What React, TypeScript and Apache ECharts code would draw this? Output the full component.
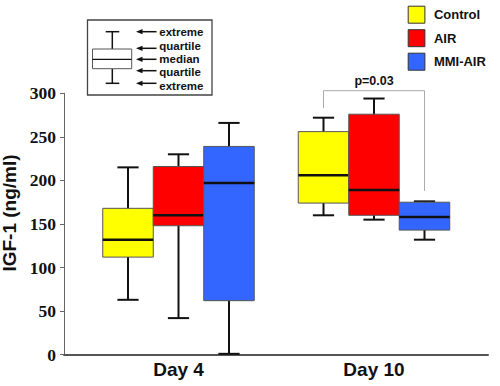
import React, { useEffect, useRef } from "react";
import * as echarts from "echarts";

const days = ["Day 4", "Day 10"];
const groupNames = ["Control", "AIR", "MMI-AIR"];
const groupColors = ["#ffff00", "#ff0000", "#3366ff"];
// [low, q1, median, q3, high] per day
const controlStats = [
  [63, 112, 132, 168, 215],
  [160, 174, 206, 256, 272],
];
const airStats = [
  [42, 148, 160, 216, 230],
  [155, 160, 189, 276, 294],
];
const mmiAirStats = [
  [1, 62, 197, 239, 266],
  [132, 143, 158, 175, 176],
];
const allStats = [controlStats, airStats, mmiAirStats];
const yTicks = { min: 0, max: 300, interval: 50 };
// significance bracket: day index, from group, to group, top y, left leg end, right leg end
const bracket = { day: 1, from: 0, to: 2, top: 303, leftEnd: 283, rightEnd: 188, label: "p=0.03" };
const keyLabels = ["extreme", "quartile", "median", "quartile", "extreme"];

const BOX_FRAC = 0.2583;
const SANS = "Arial, 'Liberation Sans', sans-serif";
const SERIF = "'Liberation Serif', 'Times New Roman', 'Liberation Sans', Arial, sans-serif";

export default function App() {
  const ref = useRef<HTMLDivElement>(null);
  useEffect(() => {
    if (!ref.current) return;
    const chart = echarts.init(ref.current, null, { renderer: "svg" });

    const boxSeries = groupNames.map((name, gi) => ({
      type: "custom",
      name,
      xAxisIndex: 1,
      yAxisIndex: 1,
      itemStyle: { color: groupColors[gi], borderColor: "#444", borderWidth: 1 },
      encode: { x: 0, y: [1, 2, 3, 4, 5] },
      data: allStats[gi].map((s, di) => [di, ...s]),
      renderItem: (params: any, api: any) => {
        const cat = api.value(0);
        const band = api.size([1, 0])[0];
        const bw = band * BOX_FRAC;
        const cx = api.coord([cat, 0])[0] + (gi - 1) * bw;
        const y = (v: number) => api.coord([cat, v])[1];
        const low = y(api.value(1));
        const q1 = y(api.value(2));
        const med = y(api.value(3));
        const q3 = y(api.value(4));
        const high = y(api.value(5));
        const capHalf = bw * 0.21;
        const lineStyle = { stroke: "#111", lineWidth: 2 };
        return {
          type: "group",
          children: [
            { type: "line", shape: { x1: cx, y1: high, x2: cx, y2: low }, style: lineStyle },
            { type: "line", shape: { x1: cx - capHalf, y1: high, x2: cx + capHalf, y2: high }, style: lineStyle },
            { type: "line", shape: { x1: cx - capHalf, y1: low, x2: cx + capHalf, y2: low }, style: lineStyle },
            {
              type: "rect",
              shape: { x: cx - bw / 2, y: q3, width: bw, height: q1 - q3 },
              style: { fill: groupColors[gi], stroke: "#555", lineWidth: 1 },
            },
            { type: "line", shape: { x1: cx - bw / 2, y1: med, x2: cx + bw / 2, y2: med }, style: { stroke: "#111", lineWidth: 2.5 } },
          ],
        };
      },
    }));

    const bracketSeries = {
      type: "custom",
      name: "bracket",
      xAxisIndex: 1,
      yAxisIndex: 1,
      silent: true,
      encode: { x: 0, y: [1, 2, 3] },
      data: [[bracket.day, bracket.top, bracket.leftEnd, bracket.rightEnd]],
      renderItem: (params: any, api: any) => {
        const cat = api.value(0);
        const band = api.size([1, 0])[0];
        const bw = band * BOX_FRAC;
        const base = api.coord([cat, 0])[0];
        const xl = base + (bracket.from - 1) * bw;
        const xr = base + (bracket.to - 1) * bw;
        const yt = api.coord([cat, api.value(1)])[1];
        const yl = api.coord([cat, api.value(2)])[1];
        const yr = api.coord([cat, api.value(3)])[1];
        return {
          type: "group",
          children: [
            {
              type: "polyline",
              shape: { points: [[xl, yl], [xl, yt], [xr, yt], [xr, yr]] },
              style: { stroke: "#aaa", lineWidth: 1, fill: "none" },
            },
            {
              type: "text",
              x: (xl + xr) / 2,
              y: yt - 3,
              style: {
                text: bracket.label,
                fontFamily: SANS,
                fontWeight: "bold",
                fontSize: 12.5,
                fill: "#111",
                align: "center",
                verticalAlign: "bottom",
              },
            },
          ],
        };
      },
    };

    const keyYs = [31.7, 48.3, 59.3, 70.7, 83.3];
    const keyTextYs = [31.5, 46.2, 59.3, 72.4, 85.5];
    const keyGraphics: any[] = [
      { type: "rect", shape: { x: 87.5, y: 20, width: 124.5, height: 75 }, style: { fill: "#fff", stroke: "#444", lineWidth: 1.3 } },
      { type: "line", shape: { x1: 112.3, y1: 31.7, x2: 112.3, y2: 49 }, style: { stroke: "#111", lineWidth: 1.5 } },
      { type: "line", shape: { x1: 112.3, y1: 68.7, x2: 112.3, y2: 83.3 }, style: { stroke: "#111", lineWidth: 1.5 } },
      { type: "line", shape: { x1: 105.7, y1: 31.7, x2: 119.3, y2: 31.7 }, style: { stroke: "#111", lineWidth: 1.5 } },
      { type: "line", shape: { x1: 105.7, y1: 83.3, x2: 119.3, y2: 83.3 }, style: { stroke: "#111", lineWidth: 1.5 } },
      { type: "rect", shape: { x: 92.5, y: 49, width: 39.2, height: 19.7 }, style: { fill: "#fff", stroke: "#555", lineWidth: 1 } },
      { type: "line", shape: { x1: 92.5, y1: 59.3, x2: 131.7, y2: 59.3 }, style: { stroke: "#111", lineWidth: 1.2 } },
    ];
    keyLabels.forEach((lab, i) => {
      const yy = keyYs[i];
      keyGraphics.push({ type: "line", shape: { x1: 140, y1: yy, x2: 156.5, y2: yy }, style: { stroke: "#111", lineWidth: 1.5 } });
      keyGraphics.push({ type: "polygon", shape: { points: [[136, yy], [142.5, yy - 2.6], [142.5, yy + 2.6]] }, style: { fill: "#111" } });
      keyGraphics.push({
        type: "text",
        x: 159.3,
        y: keyTextYs[i],
        style: {
          text: lab,
          fontFamily: SANS,
          fontWeight: "bold",
          fontSize: 11.5,
          lineHeight: 11,
          fill: "#111",
          verticalAlign: "middle",
        },
      });
    });

    chart.setOption({
      animation: false,
      backgroundColor: "#fff",
      legend: {
        data: groupNames,
        orient: "vertical",
        left: 407.7,
        top: 5.7,
        icon: "rect",
        itemWidth: 16.7,
        itemHeight: 17,
        itemGap: 5.5,
        padding: 0,
        itemStyle: { borderColor: "#333", borderWidth: 1 },
        textStyle: {
          fontFamily: SANS,
          fontWeight: "bold",
          fontSize: 13,
          color: "#111",
          padding: [0, 0, 0, 4],
        },
      },
      grid: [
        { left: 64, right: 12, top: 93.3, bottom: 31.3, outerBoundsMode: "none", containLabel: false },
        { left: 80.75, right: 28.25, top: 93.3, bottom: 31.3, outerBoundsMode: "none", containLabel: false },
      ],
      xAxis: [
        {
          type: "value",
          gridIndex: 0,
          min: 0,
          max: 1,
          axisLine: { show: true, lineStyle: { color: "#555", width: 2 } },
          axisTick: { show: false },
          axisLabel: { show: false },
          splitLine: { show: false },
        },
        {
          type: "category",
          gridIndex: 1,
          data: days,
          axisLine: { show: false },
          axisTick: { show: false },
          splitLine: { show: false },
          axisLabel: {
            margin: 5,
            fontFamily: SANS,
            fontWeight: "bold",
            fontSize: 19,
            color: "#111",
          },
        },
      ],
      yAxis: [
        {
          type: "value",
          gridIndex: 0,
          min: yTicks.min,
          max: yTicks.max,
          interval: yTicks.interval,
          name: "IGF-1 (ng/ml)",
          nameLocation: "middle",
          nameGap: 35,
          nameTextStyle: {
            fontFamily: SANS,
            fontWeight: "bold",
            fontSize: 19,
            color: "#111",
            padding: [0, 0, 0, 22],
          },
          axisLine: { show: true, lineStyle: { color: "#666", width: 1 } },
          axisTick: { show: true, length: 4, lineStyle: { color: "#666" } },
          splitLine: { show: false },
          axisLabel: {
            margin: 8,
            fontFamily: SERIF,
            fontWeight: "bold",
            fontSize: 17.5,
            color: "#111",
          },
        },
        {
          type: "value",
          gridIndex: 1,
          min: yTicks.min,
          max: yTicks.max,
          interval: yTicks.interval,
          show: false,
          splitLine: { show: false },
        },
      ],
      graphic: keyGraphics,
      series: [...boxSeries, bracketSeries],
    });
    return () => chart.dispose();
  }, []);
  return <div ref={ref} style={{ width: 500, height: 386, position: "absolute", left: 0, top: 0 }} />;
}
